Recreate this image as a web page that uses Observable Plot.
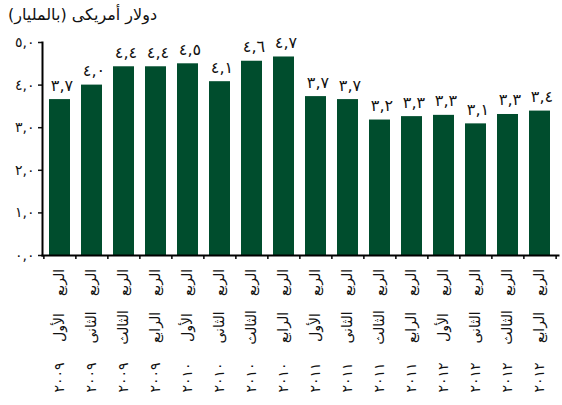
<!DOCTYPE html>
<html>
<head>
<meta charset="utf-8">
<script src="https://cdn.jsdelivr.net/npm/d3@7"></script>
<script src="https://cdn.jsdelivr.net/npm/@observablehq/plot@0.6"></script>
<style>
  body { margin: 0; background: #fff; font-family: "DejaVu Sans", sans-serif; }
  #wrap { position: relative; width: 562px; height: 405px; }
  #title { position: absolute; left: 8px; top: 5px; font-size: 16px; color: #111; direction: rtl; white-space: nowrap; }
</style>
</head>
<body>
<div id="wrap">
  <div id="title" dir="rtl">دولار أمريكى (بالمليار)</div>
</div>
<script>
const titleText = "دولار أمريكى (بالمليار)";
const quarterWord = "الربع";
const quarterNames = ["الأول", "الثانى", "الثالث", "الرابع"];
const yearLabels = ["٢٠٠٩", "٢٠١٠", "٢٠١١", "٢٠١٢"];
const values = [3.66, 4.0, 4.43, 4.43, 4.5, 4.08, 4.56, 4.66, 3.73, 3.66, 3.18, 3.26, 3.29, 3.09, 3.31, 3.39];
const yTicks = [0, 1, 2, 3, 4, 5];

const arabicDigits = "٠١٢٣٤٥٦٧٨٩";
const toArabic = s => String(s).replace(/[0-9]/g, d => arabicDigits[+d]).replace(".", ",");
const fmt = v => toArabic(v.toFixed(1));

const data = values.map((v, i) => ({
  key: "q" + i,
  value: v,
  quarter: quarterNames[i % 4],
  year: yearLabels[Math.floor(i / 4)]
}));
const keys = data.map(d => d.key);

const W = 562, H = 405, mL = 42, mR = 4;
const step = (W - mL - mR) / keys.length;
const green = "#004d2d";
const font = "DejaVu Sans";

const chart = Plot.plot({
  width: W,
  height: H,
  marginLeft: mL,
  marginRight: mR,
  marginTop: 42,
  marginBottom: 150,
  style: { fontFamily: font, background: "transparent", overflow: "visible" },
  x: { domain: keys, paddingInner: 0.34, paddingOuter: 0.17, axis: null, label: null },
  y: { domain: [0, 5], axis: null, label: null },
  marks: [
    Plot.barY(data, { x: "key", y: "value", fill: green }),
    Plot.text(data, {
      x: "key", y: "value", text: d => fmt(d.value),
      dy: -9, dx: 2, lineAnchor: "bottom", fontSize: 16, fill: "#111", fontFamily: font
    }),
    Plot.axisY({
      ticks: yTicks, tickFormat: fmt, tickSize: 4, tickPadding: 4, label: null,
      fontSize: 14, strokeWidth: 1.5, color: "#111", fontFamily: font
    }),
    Plot.axisX({ ticks: keys, tickFormat: null, tickSize: 4, dx: -step / 2, strokeWidth: 1.5, text: null, label: null }),
    Plot.axisX({ ticks: [keys[keys.length - 1]], tickFormat: null, tickSize: 4, dx: step / 2, strokeWidth: 1.5, text: null, label: null }),
    Plot.frame({ anchor: "left", strokeWidth: 2, stroke: "#000" }),
    Plot.frame({ anchor: "bottom", strokeWidth: 2, stroke: "#000" }),
    Plot.text(data, {
      x: "key", text: () => quarterWord, frameAnchor: "bottom", dy: 27,
      rotate: -90, textAnchor: "middle", lineAnchor: "middle", fontSize: 14, fill: "#111", fontFamily: font
    }),
    Plot.text(data, {
      x: "key", text: "quarter", frameAnchor: "bottom", dy: 72,
      rotate: -90, textAnchor: "middle", lineAnchor: "middle", fontSize: 14, fill: "#111", fontFamily: font
    }),
    Plot.text(data, {
      x: "key", text: "year", frameAnchor: "bottom", dy: 122,
      rotate: -90, textAnchor: "middle", lineAnchor: "middle", fontSize: 14, fill: "#111", fontFamily: font
    })
  ]
});
chart.style.position = "absolute";
chart.style.left = "0";
chart.style.top = "0";
document.getElementById("wrap").prepend(chart);
</script>
</body>
</html>
